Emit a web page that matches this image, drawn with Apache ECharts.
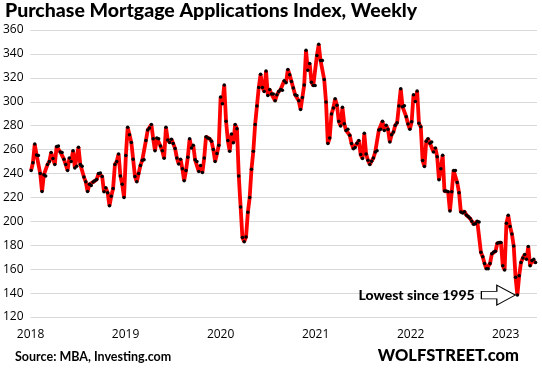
<!DOCTYPE html>
<html><head><meta charset="utf-8">
<script src="https://cdn.jsdelivr.net/npm/echarts@6/dist/echarts.min.js"></script>
<style>html,body{margin:0;padding:0;background:#fff}#c{width:542px;height:369px}</style>
</head><body><div id="c"></div>
<script>
const firstWeek = '2018-01-03';
const v2018 = [242.5, 249, 264.7, 255.5, 255, 240, 225, 239, 238, 247.5, 250, 257.5, 252.5, 247.5, 262.5, 263, 258, 257.5, 252, 247.5, 242.5, 253, 250, 259, 244.7, 246, 262, 247.5, 246, 237, 233, 225, 231, 230, 232.8, 234, 235, 240, 240.5, 237.5, 224.7, 228, 224, 213, 221, 227.5, 247.5, 250, 256.4, 238, 231, 220];
const v2019 = [255, 278.6, 272.5, 266, 252, 237.5, 233, 240, 246.7, 251, 251.4, 267.5, 276.4, 278, 281, 269, 259, 269.7, 269, 263, 259, 252.8, 278.6, 268, 266, 268.6, 265, 261, 253, 248, 252, 244, 234, 242.5, 253.6, 269, 261.4, 263.6, 251.4, 250, 241.7, 246.7, 240.8, 253, 270.8, 269.7, 269, 267, 260, 250, 256.7, 263.6];
const v2020 = [303.9, 298.3, 314, 283.6, 267.5, 258.6, 273, 265.8, 281, 277.5, 238, 212, 186.4, 183, 187, 207.5, 220, 243.6, 258.6, 281, 296.4, 312, 323, 312, 308.6, 325.8, 305.3, 310.3, 306.4, 306.4, 300.8, 305.8, 308.6, 310.3, 309.7, 317.5, 315.8, 327, 322.5, 317, 311.4, 305.8, 305.3, 300.8, 293.6, 303.6, 314, 343, 326.4, 332, 316.4, 313.6, 313.6];
const v2021 = [338.6, 348, 334.4, 334.4, 318.6, 299.7, 265, 269.7, 289.7, 294.7, 302.5, 297, 283.6, 279.7, 295.3, 281.7, 276, 277, 272, 265, 260.8, 261.7, 265.3, 267.5, 255.8, 252.5, 273.6, 256.4, 251, 247.5, 250.3, 253, 258, 259, 276.4, 277, 283.6, 276, 280.3, 277, 266.4, 272.5, 274.7, 280.3, 282.5, 296.4, 310.8, 295.8, 296.7, 287.5, 281.4, 277];
const v2022 = [283.3, 305.8, 300.3, 309, 282, 279, 250.8, 245.8, 267, 269, 265.3, 266.4, 258, 261.4, 254, 234.7, 244, 255.3, 225.3, 225.3, 224.7, 208.6, 224.7, 242.5, 242.5, 232.5, 224, 207.8, 207, 208, 205.3, 204, 202.5, 200, 197.5, 198, 200, 199.4, 174.2, 170.3, 164.7, 160.3, 160.3, 164.7, 172.8, 174.4, 175, 181.7, 182.2, 182.2, 162.8, 159.4];
const v2023 = [198.3, 205, 195.6, 189.4, 179.4, 153.3, 138.3, 154.4, 165.6, 169.4, 172.2, 168.3, 178.9, 162.8, 167.2, 168.3, 165.6];

const yearTicks = ['2018', '2019', '2020', '2021', '2022', '2023'];
const yMin = 120, yMax = 360, yStep = 20;
const titleText = 'Purchase Mortgage Applications Index, Weekly';
const sourceText = 'Source: MBA, Investing.com';
const brandText = 'WOLFSTREET.com';
const noteText = 'Lowest since 1995';

const values = [].concat(v2018, v2019, v2020, v2021, v2022, v2023);
const start = new Date(firstWeek + 'T00:00:00Z');
function decYear(d) {
  const y = d.getUTCFullYear();
  const s = Date.UTC(y, 0, 1), e = Date.UTC(y + 1, 0, 1);
  return y + (d.getTime() - s) / (e - s);
}
const data = values.map((v, i) => [decYear(new Date(start.getTime() + i * 7 * 86400000)), v]);

const chart = echarts.init(document.getElementById('c'), null, {renderer: 'canvas'});
chart.setOption({
  animation: false,
  backgroundColor: '#fff',
  title: {
    text: titleText, left: 5, top: 1, padding: 0,
    textStyle: {fontFamily: 'Lato', fontWeight: 900, fontSize: 19.5, color: '#000'}
  },
  grid: {left: 30, right: 5, top: 30, bottom: 52},
  xAxis: {
    type: 'value', min: Number(yearTicks[0]), max: 2023.33, interval: 1,
    axisLine: {show: false}, axisTick: {show: false}, splitLine: {show: false},
    axisLabel: {
      showMaxLabel: false, margin: 12, fontFamily: 'Open Sans', fontSize: 12, color: '#000',
      formatter: v => yearTicks.indexOf(String(v)) >= 0 ? String(v) : ''
    }
  },
  yAxis: {
    type: 'value', min: yMin, max: yMax, interval: yStep,
    axisLine: {show: false}, axisTick: {show: false},
    splitLine: {lineStyle: {color: '#d9d9d9', width: 1}},
    axisLabel: {margin: 7, fontFamily: 'Open Sans', fontSize: 12, color: '#000'}
  },
  graphic: [
    {type: 'text', left: 15, top: 350, style: {text: sourceText, font: 'bold 12.5px Lato', fill: '#000'}},
    {type: 'text', right: 23, top: 347, style: {text: brandText, font: '900 16.5px Lato', fill: '#000'}}
  ],
  series: [{
    type: 'line', data: data, showAllSymbol: true, symbol: 'circle', symbolSize: 3.5,
    lineStyle: {color: '#ff0000', width: 3.8},
    itemStyle: {color: '#000'},
    emphasis: {disabled: true},
    markPoint: {
      silent: true,
      data: [{type: 'min', valueDim: 'y'}],
      symbol: 'path://M0,6 L15,6 L15,0 L33,9.5 L15,19 L15,13 L0,13 Z',
      symbolSize: [34, 20], symbolOffset: [-19, 0],
      itemStyle: {color: '#fff', borderColor: '#000', borderWidth: 1},
      label: {show: true, position: 'left', distance: 6, formatter: noteText,
        fontFamily: 'Lato', fontWeight: 900, fontSize: 14, color: '#000'}
    }
  }]
});
</script>
</body></html>
